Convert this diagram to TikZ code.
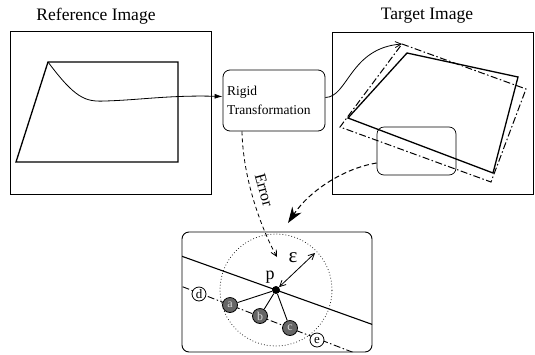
\documentclass[tikz,border=0pt]{standalone}
\usepackage{fontspec}
\setmainfont{Liberation Serif}
\usetikzlibrary{arrows.meta}
\begin{document}
\begin{tikzpicture}[x=1pt,y=-1pt,
  frame/.style={draw, line width=0.8pt, inner sep=0pt},
  quad/.style={line width=1.3pt, line join=miter},
  dashdot/.style={line width=1pt, dash pattern=on 7pt off 2.5pt on 1.5pt off 2.5pt},
  rbox/.style={draw, rounded corners=7pt, line width=0.8pt, inner sep=0pt},
  title/.style={font=\fontsize{17.5}{20}\selectfont},
  graypt/.style={circle, draw, line width=0.8pt, fill=black!60, text=white!85!black, minimum size=15pt, inner sep=0pt, font=\fontsize{12}{12}\selectfont},
  openpt/.style={circle, draw, line width=0.8pt, fill=white, minimum size=14pt, inner sep=0pt, font=\fontsize{13}{13}\selectfont},
  thinarrow/.style={line width=0.8pt, -{Straight Barb[length=6pt,width=6pt]}},
]
\useasboundingbox (0,0) rectangle (535,354);

% titles
\node[title] (reftitle) at (96,16) {Reference Image};
\node[title] (tgttitle) at (427,16) {Target Image};

% frames
\node[frame, minimum width=201pt, minimum height=163pt] (refimg) at (110.5,112.5) {};
\node[frame, minimum width=201pt, minimum height=162pt] (tgtimg) at (432.5,113) {};

% rigid transformation box
\node[rbox, text width=94pt, minimum height=61pt, inner sep=4pt, align=left,
      font=\fontsize{13.5}{19}\selectfont] (rigid) at (274,100.5) {Rigid\\Transformation};

% reference quad
\coordinate (qa) at (48,62);
\draw[quad] (qa) -- (178,62) -- (178,162) -- (16,162) -- cycle;
\draw[line width=0.8pt, -{Latex[length=8pt,width=5pt]}] (qa) .. controls (75,98) and (85,102) .. (105,101)
   .. controls (140,100) and (170,95) .. ([yshift=4pt]rigid.west);

% target quads
\coordinate (tq) at (402,44);
\draw[quad] (407,53) -- (518,77) -- (493,173) -- (348,118) -- cycle;
\draw[dashdot] (tq) -- (526,89) -- (491,182) -- (340,127) -- cycle;
\draw[thinarrow] ([yshift=3pt]rigid.east) .. controls (348,97) and (350,48) .. (tq);

% zoom rectangle
\node[rbox, line width=0.7pt, minimum width=79pt, minimum height=48pt] (zoomrect) at (416.5,151) {};

% bottom box
\node[rbox, line width=0.9pt, minimum width=190pt, minimum height=120pt] (zbox) at (277,292) {};

% big dashed arrow
\coordinate (bigtip) at (288,223);
\draw[line width=1pt, dash pattern=on 5pt off 3pt, -{Stealth[length=16pt,width=11pt]}]
  ([yshift=-12pt]zoomrect.west) .. controls (345,168) and (310,190) .. (bigtip);

% error arrow
\coordinate (errtip) at (277,257);
\draw[line width=0.8pt, dash pattern=on 4pt off 3pt, -{Straight Barb[length=6pt,width=6pt]}]
  ([xshift=-32pt]rigid.south) .. controls (243,180) and (262,230) .. (errtip);
\node[rotate=-75, font=\fontsize{16}{16}\selectfont] (errlabel) at (264,190) {Error};

% lines in bottom box
\begin{scope}
  \clip[rounded corners=7pt] (182,232) rectangle (372,352);
  \draw[line width=1.1pt] (170,252) -- (385,329);
  \draw[dashdot, line width=0.9pt] (170,281.9) -- (380,362.75);
\end{scope}

\coordinate (pc) at (276,290);
\draw[line width=1pt, line cap=round, dash pattern=on 0pt off 3pt] (pc) circle (56pt);

\node[circle, fill, inner sep=0pt, minimum size=8pt] (p) at (pc) {};
\node[font=\fontsize{18}{18}\selectfont] (plabel) at (270,277) {p};
\coordinate (epsend) at (315,253);
\draw[line width=0.8pt, {Straight Barb[length=6pt,width=6pt]}-{Straight Barb[length=6pt,width=6pt]}] (p) -- (epsend);
\node[font=\fontsize{21}{21}\selectfont] (epslabel) at (293,258) {ε};

\node[openpt] (d) at (199,294) {d};
\node[graypt] (a) at (230,305) {a};
\node[graypt] (b) at (260,316) {b};
\node[graypt] (c) at (290,328) {c};
\node[openpt] (e) at (317,340) {e};
\draw[line width=0.9pt] (p) -- (a);
\draw[line width=0.9pt] (p) -- (b);
\draw[line width=0.9pt] (p) -- (c);
\end{tikzpicture}
\end{document}
